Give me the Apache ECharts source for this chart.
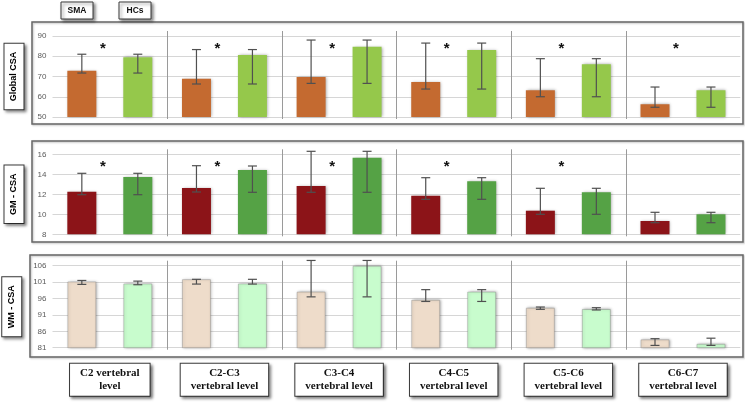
<!DOCTYPE html>
<html>
<head>
<meta charset="utf-8">
<script src="https://cdn.jsdelivr.net/npm/echarts@6/dist/echarts.min.js"></script>
<style>
  html, body { margin: 0; padding: 0; background: #fff; }
  #chart { width: 745px; height: 404px; }
</style>
</head>
<body>
<div id="chart"></div>
<script>
// ---------- DATA ----------
const categories = ['C2 vertebral\nlevel', 'C2-C3\nvertebral level', 'C3-C4\nvertebral level',
                    'C4-C5\nvertebral level', 'C5-C6\nvertebral level', 'C6-C7\nvertebral level'];
const groups = ['SMA', 'HCs'];
const panelTitles = ['Global CSA', 'GM - CSA', 'WM - CSA'];

// Global CSA
const globalSMA = [72.9, 68.9, 69.8, 67.3, 63.2, 56.3];
const globalHCs = [79.5, 80.6, 84.7, 83.1, 76.0, 63.2];
const globalSMALow  = [71.7, 66.3, 66.6, 63.8, 60.0, 54.8];
const globalSMAHigh = [81.0, 83.3, 88.0, 86.5, 78.8, 64.8];
const globalHCsLow  = [71.7, 66.3, 66.6, 63.8, 60.0, 54.8];
const globalHCsHigh = [81.0, 83.3, 88.0, 86.5, 78.8, 64.8];
const globalSig = [true, true, true, true, true, true];

// GM - CSA
const gmSMA = [12.26, 12.63, 12.83, 11.86, 10.36, 9.33];
const gmHCs = [13.73, 14.43, 15.66, 13.30, 12.20, 10.00];
const gmSMALow  = [11.96, 12.23, 12.20, 11.50, 10.00, 9.16];
const gmSMAHigh = [14.10, 14.86, 16.30, 13.66, 12.60, 10.20];
const gmHCsLow  = [11.96, 12.20, 12.20, 11.50, 10.00, 9.16];
const gmHCsHigh = [14.10, 14.83, 16.30, 13.66, 12.60, 10.20];
const gmSig = [true, true, true, true, true, false];

// WM - CSA
const wmSMA = [101.2, 101.9, 98.1, 95.6, 93.2, 83.55];
const wmHCs = [100.6, 100.6, 106.0, 98.1, 92.8, 82.2];
const wmSMALow  = [100.3, 100.4, 96.5, 95.1, 92.7, 81.7];
const wmSMAHigh = [101.5, 101.85, 107.6, 98.7, 93.4, 83.75];
const wmHCsLow  = [100.2, 100.4, 96.5, 95.1, 92.5, 81.7];
const wmHCsHigh = [101.3, 101.85, 107.6, 98.7, 93.2, 83.9];
const wmSig = [false, false, false, false, false, false];

// axis settings (tick labels)
const axes = [
  { min: 50, max: 90, interval: 10 },
  { min: 8, max: 16, interval: 2 },
  { min: 81, max: 106, interval: 5 }
];

// ---------- STYLE ----------
const colors = [
  ['#C46A30', '#95C84B'],
  ['#8C1418', '#55A245'],
  ['#EEDCCA', '#C8FCCD']
];
const BAR_W = 29;
const GAP_RATIO = 0.93;
const grids = [
  { left: 52.5, right: 4.7, top: 36, height: 81, containLabel: false, outerBoundsMode: 'none' },
  { left: 52.5, right: 4.7, top: 154.3, height: 80, containLabel: false, outerBoundsMode: 'none' },
  { left: 52.5, right: 4.7, top: 265.7, height: 82, containLabel: false, outerBoundsMode: 'none' }
];
const starY = [83.5, 14.7, null];
const FONT = 'Liberation Sans';

const panels = [
  { sma: globalSMA, hcs: globalHCs, sl: globalSMALow, sh: globalSMAHigh, hl: globalHCsLow, hh: globalHCsHigh, sig: globalSig },
  { sma: gmSMA, hcs: gmHCs, sl: gmSMALow, sh: gmSMAHigh, hl: gmHCsLow, hh: gmHCsHigh, sig: gmSig },
  { sma: wmSMA, hcs: wmHCs, sl: wmSMALow, sh: wmSMAHigh, hl: wmHCsLow, hh: wmHCsHigh, sig: wmSig }
];

function errorRender(offsetSign) {
  return function (params, api) {
    const off = offsetSign * BAR_W * (1 + GAP_RATIO) / 2;
    const c = api.coord([api.value(0), api.value(1)]);
    const x = c[0] + off;
    const y1 = c[1];
    const y2 = api.coord([api.value(0), api.value(2)])[1];
    const cap = 4.5;
    const st = { stroke: '#505050', lineWidth: 1.2 };
    return {
      type: 'group',
      children: [
        { type: 'line', shape: { x1: x, y1: y1, x2: x, y2: y2 }, style: st },
        { type: 'line', shape: { x1: x - cap, y1: y1, x2: x + cap, y2: y1 }, style: st },
        { type: 'line', shape: { x1: x - cap, y1: y2, x2: x + cap, y2: y2 }, style: st }
      ]
    };
  };
}

const xAxis = [], yAxis = [], series = [];
panels.forEach((p, k) => {
  const ax = axes[k];
  xAxis.push({
    type: 'category', gridIndex: k, data: categories,
    axisLine: { show: false }, axisTick: { show: false }, splitLine: { show: false },
    axisLabel: k === 2 ? {
      interval: 0, margin: 16,
      fontFamily: 'Liberation Serif', fontWeight: 'bold', fontSize: 11, lineHeight: 13,
      color: '#111', backgroundColor: '#fff', borderColor: '#3a3a3a', borderWidth: 1,
      padding: [3, 10, 3, 10],
      shadowColor: 'rgba(0,0,0,0.45)', shadowBlur: 3, shadowOffsetX: 2, shadowOffsetY: 2
    } : { show: false }
  });
  yAxis.push({
    type: 'value', gridIndex: k, min: ax.min, max: ax.max, interval: ax.interval,
    axisLine: { show: false }, axisTick: { show: false },
    axisLabel: { fontSize: 8, color: '#5a5a5a', margin: 6, fontFamily: FONT },
    splitLine: { lineStyle: { color: '#d6d6d6', width: 1 } },
    name: panelTitles[k], nameLocation: 'middle', nameRotate: 90, nameGap: 29,
    nameTextStyle: {
      fontFamily: FONT, fontWeight: 'bold', fontSize: 9, lineHeight: 11, color: '#000',
      backgroundColor: '#fff', borderColor: '#3a3a3a', borderWidth: 1, padding: [4, 8, 4, 8],
      shadowColor: 'rgba(0,0,0,0.45)', shadowBlur: 3, shadowOffsetX: 2, shadowOffsetY: 2
    }
  });
  const barStyle = (c) => ({
    color: c, shadowColor: 'rgba(0,0,0,0.35)', shadowBlur: 3, shadowOffsetX: 1, shadowOffsetY: 0,
    borderColor: k === 2 ? 'rgba(120,120,120,0.35)' : c, borderWidth: k === 2 ? 1 : 0
  });
  series.push({
    type: 'bar', name: groups[0], xAxisIndex: k, yAxisIndex: k, data: p.sma,
    barWidth: BAR_W, barGap: (GAP_RATIO * 100) + '%', itemStyle: barStyle(colors[k][0]), z: 2
  });
  series.push({
    type: 'bar', name: groups[1], xAxisIndex: k, yAxisIndex: k, data: p.hcs,
    barWidth: BAR_W, barGap: (GAP_RATIO * 100) + '%', itemStyle: barStyle(colors[k][1]), z: 2
  });
  // category separators
  series.push({
    type: 'custom', xAxisIndex: k, yAxisIndex: k, z: 1, silent: true,
    data: categories.map((c, i) => [i, ax.min, ax.max]).slice(1),
    encode: { x: 0, y: [1, 2] },
    renderItem: function (params, api) {
      const band = api.size([1, 0])[0];
      const b = api.coord([api.value(0), api.value(1)]);
      const t = api.coord([api.value(0), api.value(2)]);
      const x = Math.round(b[0] - band / 2) + 0.5;
      return { type: 'line', shape: { x1: x, y1: t[1] - 5, x2: x, y2: b[1] + 2 },
               style: { stroke: '#9a9a9a', lineWidth: 1 } };
    }
  });
  // error bars
  series.push({
    type: 'custom', xAxisIndex: k, yAxisIndex: k, z: 5, silent: true,
    data: p.sma.map((v, i) => [i, p.sl[i], p.sh[i]]),
    encode: { x: 0, y: [1, 2] }, renderItem: errorRender(-1)
  });
  series.push({
    type: 'custom', xAxisIndex: k, yAxisIndex: k, z: 5, silent: true,
    data: p.hcs.map((v, i) => [i, p.hl[i], p.hh[i]]),
    encode: { x: 0, y: [1, 2] }, renderItem: errorRender(1)
  });
  // significance stars
  if (starY[k] !== null) {
    series.push({
      type: 'custom', xAxisIndex: k, yAxisIndex: k, z: 6, silent: true,
      data: p.sig.map((s, i) => s ? [i, starY[k]] : null).filter(d => d),
      encode: { x: 0, y: 1 },
      renderItem: function (params, api) {
        const c = api.coord([api.value(0), api.value(1)]);
        return { type: 'text', x: c[0] - 7, y: c[1],
                 style: { text: '*', fill: '#111', font: 'bold 15px ' + FONT, align: 'center', verticalAlign: 'middle' } };
      }
    });
  }
});

const boxStyle = { fill: '#fff', stroke: '#3a3a3a', lineWidth: 1,
  shadowColor: 'rgba(0,0,0,0.45)', shadowBlur: 3, shadowOffsetX: 2, shadowOffsetY: 2 };
const panelStyle = { fill: 'none', stroke: '#666', lineWidth: 1.5,
  shadowColor: 'rgba(0,0,0,0.25)', shadowBlur: 2, shadowOffsetX: 1, shadowOffsetY: 1 };

const graphic = [
  { type: 'rect', shape: { x: 32, y: 22, width: 711, height: 102 }, style: panelStyle, z: 0, silent: true },
  { type: 'rect', shape: { x: 32, y: 141, width: 711, height: 101 }, style: panelStyle, z: 0, silent: true },
  { type: 'rect', shape: { x: 30, y: 255, width: 713, height: 102 }, style: panelStyle, z: 0, silent: true }
];
const legendX = [61, 119];
groups.forEach((g, i) => {
  graphic.push({ type: 'rect', shape: { x: legendX[i], y: 2, width: 32, height: 17 }, style: boxStyle, z: 10 });
  graphic.push({ type: 'text', x: legendX[i] + 16, y: 10.5, z: 11,
    style: { text: g, fill: '#111', font: 'bold 8.5px ' + FONT, align: 'center', verticalAlign: 'middle' } });
});

const chart = echarts.init(document.getElementById('chart'), null, { renderer: 'canvas' });
chart.setOption({
  animation: false,
  backgroundColor: '#fff',
  grid: grids,
  xAxis: xAxis,
  yAxis: yAxis,
  series: series,
  graphic: graphic
});
</script>
</body>
</html>
